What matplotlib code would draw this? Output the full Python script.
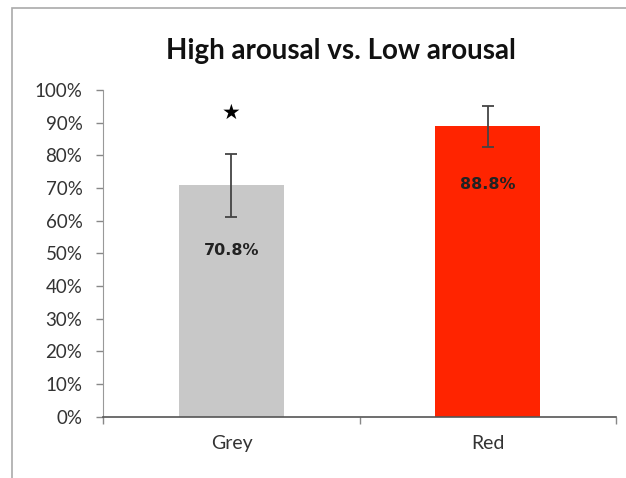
import matplotlib
matplotlib.use("Agg")
import matplotlib.pyplot as plt
from matplotlib.patches import Rectangle
from matplotlib.ticker import PercentFormatter, FixedLocator

categories = ["Grey", "Red"]
values = [70.8, 88.8]
errors = [9.6, 6.2]
labels = ["70.8%", "88.8%"]
label_y = [51, 71]
star_y = 93
colors = ["#c8c8c8", "#ff2400"]

plt.rcParams['font.family'] = ['Lato', 'DejaVu Sans']

fig = plt.figure(figsize=(6.26, 4.78), dpi=100)
ax = fig.add_axes([0.165, 0.128, 0.819, 0.684])

x = list(range(len(categories)))
ax.bar(x, values, width=0.41, color=colors, zorder=2)
ax.errorbar(x, values, yerr=errors, fmt='none', ecolor='#444444',
            elinewidth=1.3, capsize=4, capthick=1.3, zorder=3)
for xi, lab, ly in zip(x, labels, label_y):
    ax.text(xi, ly, lab, ha='center', va='center', fontsize=11.5,
            fontweight='bold', color='#222222', zorder=4, family='DejaVu Sans')
ax.text(x[0], star_y, "\u2605", ha='center', va='center', fontsize=15,
        color='black', family='DejaVu Sans')

ax.set_xlim(-0.5, 1.5)
ax.set_ylim(0, 100)
ax.yaxis.set_major_locator(FixedLocator(range(0, 101, 10)))
ax.yaxis.set_major_formatter(PercentFormatter(decimals=0))
ax.set_xticks(x)
ax.set_xticklabels(categories)
ax.xaxis.set_minor_locator(FixedLocator([-0.5, 0.5, 1.5]))
ax.tick_params(axis='x', which='major', length=0, pad=13, labelsize=14, labelcolor='#333333')
ax.tick_params(axis='x', which='minor', length=5, direction='out', color='#888888', width=1)
ax.tick_params(axis='y', length=5, direction='out', color='#888888', width=1,
               labelsize=13.5, labelcolor='#333333', pad=10)
for s in ['top', 'right']:
    ax.spines[s].set_visible(False)
ax.spines['left'].set_color('#999999')
ax.spines['bottom'].set_color('#555555')
ax.spines['bottom'].set_linewidth(1.2)

fig.text(0.545, 0.893, "High arousal vs. Low arousal", ha='center', va='center',
         fontsize=20, fontweight='bold', color='#111111')

frame = Rectangle((0.019, -0.1), 1.2, 0.983 + 0.1, transform=fig.transFigure,
                  fill=False, edgecolor='#aaaaaa', linewidth=1.2, clip_on=False)
fig.patches.append(frame)

fig.savefig("out.png", dpi=100)
